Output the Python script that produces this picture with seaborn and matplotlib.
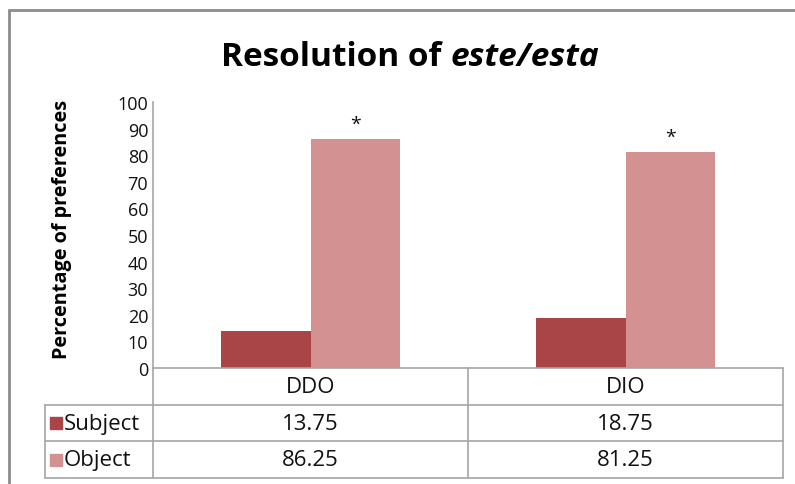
import matplotlib
matplotlib.use("Agg")
import matplotlib.pyplot as plt
import seaborn as sns
import pandas as pd
from matplotlib.patches import Rectangle
from matplotlib.lines import Line2D
from matplotlib.transforms import blended_transform_factory

# data
conditions = ["DDO", "DIO"]
responses = ["Subject", "Object"]
subject_pct = [13.75, 18.75]
object_pct = [86.25, 81.25]
marks = ["*", "*"]  # significance marks above the Object bars
title_plain = "Resolution of "
title_italic = "este/esta"
y_label = "Percentage of preferences"
y_ticks = list(range(0, 101, 10))

colors = {"Subject": "#A94447", "Object": "#D39191"}
line_col = "#A6A6A6"
txt_col = "#111111"

df = pd.DataFrame({
    "condition": conditions * 2,
    "response": ["Subject"] * len(conditions) + ["Object"] * len(conditions),
    "pct": subject_pct + object_pct,
})

sns.set_theme(style="white")
plt.rcParams["font.family"] = ["Open Sans", "DejaVu Sans"]

W, H = 795, 485
fig = plt.figure(figsize=(W / 100, H / 100), dpi=100)
ax = fig.add_axes([153 / W, 1 - 369 / H, 630 / W, 266 / H])

sns.barplot(data=df, x="condition", y="pct", hue="response",
            order=conditions, hue_order=responses, palette=colors,
            width=0.571, saturation=1, errorbar=None, legend=False,
            linewidth=0, ax=ax)

ax.set_xlim(-0.5, len(conditions) - 0.5)
ax.set_ylim(0, 100)
ax.set_yticks(y_ticks)
ax.tick_params(axis="y", length=0, pad=3.5, labelsize=13, labelcolor=txt_col)
ax.set_xticks([])
ax.set_xlabel("")
ax.set_ylabel(y_label, fontsize=14.3, fontweight="bold", color="black")
ax.yaxis.set_label_coords(-0.128, 0.526)
for s in ["top", "right"]:
    ax.spines[s].set_visible(False)
for s in ["left", "bottom"]:
    ax.spines[s].set_color(line_col)
    ax.spines[s].set_linewidth(1.2)

# asterisks above the object bars
for bar, m in zip(ax.containers[1], marks):
    ax.annotate(m, (bar.get_x() + bar.get_width() / 2, bar.get_height()),
                xytext=(0, 4), textcoords="offset points",
                ha="center", va="bottom", fontsize=14, color=txt_col)

# data table under the plot
tr = blended_transform_factory(ax.transData, ax.transAxes)
px_x = (len(conditions)) / 630.0   # data units per pixel
px_y = 1 / 266.0                   # axes units per pixel
row_h = 36.7 * px_y
label_left = -0.5 - 108 * px_x
right = len(conditions) - 0.5
n_rows = 1 + len(responses)
tab_fs = 16

def hline(y, x0, x1):
    ax.add_line(Line2D([x0, x1], [y, y], transform=tr, color=line_col,
                       lw=1.2, clip_on=False))

def vline(x, y0, y1):
    ax.add_line(Line2D([x, x], [y0, y1], transform=tr, color=line_col,
                       lw=1.2, clip_on=False))

for r in range(1, n_rows + 1):
    hline(-r * row_h, label_left, right)
for i in range(len(conditions) + 1):
    vline(-0.5 + i, 0, -n_rows * row_h)
vline(label_left, -row_h, -n_rows * row_h)

for i, c in enumerate(conditions):
    ax.text(i, -row_h / 2, c, transform=tr, ha="center", va="center",
            fontsize=tab_fs, color=txt_col)

for r, (name, vals) in enumerate(zip(responses, [subject_pct, object_pct])):
    yc = -(r + 1.5) * row_h
    ax.add_patch(Rectangle((label_left + 5 * px_x, yc - 6 * px_y),
                           12 * px_x, 12 * px_y, transform=tr,
                           color=colors[name], clip_on=False))
    ax.text(label_left + 19 * px_x, yc, name, transform=tr, ha="left",
            va="center", fontsize=tab_fs, color=txt_col)
    for i, v in enumerate(vals):
        ax.text(i, yc, f"{v:.2f}", transform=tr, ha="center", va="center",
                fontsize=tab_fs, color=txt_col)

# outer chart frame (top and left edges visible)
fig.add_artist(Line2D([9 / W, 1], [1 - 11 / H, 1 - 11 / H], color="#8C8C8C", lw=2))
fig.add_artist(Line2D([9 / W, 9 / W], [0, 1 - 11 / H], color="#8C8C8C", lw=2))

# title: plain bold + bold italic, centred together
ty = 1 - 58 / H
t1 = fig.text(0, ty, title_plain, fontsize=24, fontweight="bold",
              va="center", color="black")
t2 = fig.text(0, ty, title_italic, fontsize=24, fontweight="bold",
              style="italic", va="center", color="black")
fig.canvas.draw()
rend = fig.canvas.get_renderer()
w1 = t1.get_window_extent(rend).width
w2 = t2.get_window_extent(rend).width
x0 = 410 - (w1 + w2) / 2
t1.set_x(x0 / W)
t2.set_x((x0 + w1) / W)

fig.savefig("out.png", dpi=100)
